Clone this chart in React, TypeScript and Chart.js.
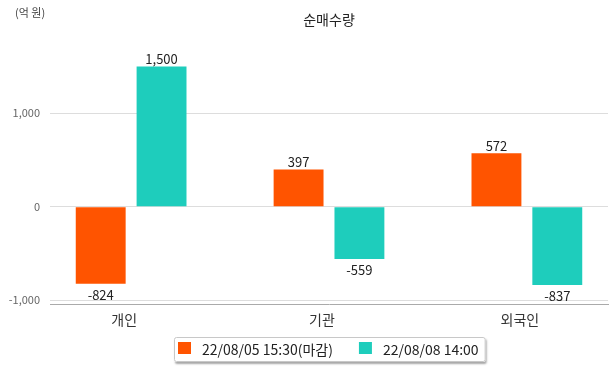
import React, { useEffect, useRef } from "react";
import { Chart, registerables } from "chart.js";

Chart.register(...registerables);

const categories = ["개인", "기관", "외국인"];
const seriesNames = ["22/08/05 15:30(마감)", "22/08/08 14:00"];
const closeValues = [-824, 397, 572];
const intradayValues = [1500, -559, -837];
const yTicks = [-1000, 0, 1000];
const colors = ["#FF5400", "#1ECDBC"];
const titleText = "순매수량";
const unitText = "(억 원)";

const FONT = "'Noto Sans CJK KR', 'Noto Sans', sans-serif";

const labelsPlugin = {
  id: "customText",
  afterDatasetsDraw(chart: any) {
    const ctx = chart.ctx;
    ctx.save();
    ctx.font = `13px ${FONT}`;
    ctx.fillStyle = "#222";
    ctx.textAlign = "center";
    chart.data.datasets.forEach((ds: any, i: number) => {
      const meta = chart.getDatasetMeta(i);
      meta.data.forEach((el: any, j: number) => {
        const v = ds.data[j].y;
        const txt = v.toLocaleString("en-US");
        if (v >= 0) {
          ctx.textBaseline = "bottom";
          ctx.fillText(txt, el.x, el.y - 1);
        } else {
          ctx.textBaseline = "top";
          ctx.fillText(txt, el.x, el.y + 5);
        }
      });
    });
    ctx.restore();
  },
  afterDraw(chart: any) {
    const ctx = chart.ctx;
    const area = chart.chartArea;
    const cx = (area.left + area.right) / 2;
    ctx.save();
    // title
    ctx.font = `14px ${FONT}`;
    ctx.fillStyle = "#222";
    ctx.textAlign = "center";
    ctx.textBaseline = "middle";
    ctx.fillText(titleText, cx, 20);
    // unit
    ctx.font = `11px ${FONT}`;
    ctx.fillStyle = "#444";
    ctx.textAlign = "left";
    ctx.fillText(unitText, 15, 13);
    // legend
    ctx.font = `14px ${FONT}`;
    const padL = 4, sq = 13, gap = 11, between = 26, padR = 7;
    const widths = chart.data.datasets.map((d: any) => ctx.measureText(d.label).width);
    let total = padL + padR;
    widths.forEach((w: number, i: number) => {
      total += sq + gap + w + (i < widths.length - 1 ? between : 0);
    });
    const bx = Math.round(cx + 1 - total / 2);
    const by = 337, bh = 25;
    ctx.save();
    ctx.shadowColor = "rgba(0,0,0,0.35)";
    ctx.shadowOffsetX = 1;
    ctx.shadowOffsetY = 2;
    ctx.shadowBlur = 2;
    ctx.fillStyle = "#fff";
    ctx.beginPath();
    ctx.roundRect(bx, by, total, bh, 2);
    ctx.fill();
    ctx.restore();
    ctx.strokeStyle = "#c8c8c8";
    ctx.lineWidth = 1;
    ctx.beginPath();
    ctx.roundRect(bx + 0.5, by + 0.5, total - 1, bh - 1, 2);
    ctx.stroke();
    let x = bx + padL;
    chart.data.datasets.forEach((d: any, i: number) => {
      ctx.fillStyle = d.backgroundColor;
      ctx.fillRect(x, by + 5, sq, 12);
      x += sq + gap;
      ctx.fillStyle = "#222";
      ctx.textAlign = "left";
      ctx.textBaseline = "middle";
      ctx.fillText(d.label, x, by + bh / 2);
      x += widths[i] + between;
    });
    ctx.restore();
  },
};

export default function App() {
  const ref = useRef<HTMLCanvasElement>(null);
  useEffect(() => {
    if (!ref.current) return;
    const mk = (vals: number[]) => vals.map((y, i) => ({ x: i, y }));
    const chart = new Chart(ref.current, {
      type: "bar",
      data: {
        datasets: [
          { label: seriesNames[0], data: mk(closeValues), backgroundColor: colors[0] },
          { label: seriesNames[1], data: mk(intradayValues), backgroundColor: colors[1] },
        ],
      },
      options: {
        animation: false,
        responsive: false,
        maintainAspectRatio: false,
        categoryPercentage: 0.615,
        barPercentage: 0.82,
        layout: { padding: { top: 43, right: 7, bottom: 36, left: 0 } },
        plugins: {
          legend: { display: false },
          title: { display: false },
          tooltip: { enabled: false },
        },
        scales: {
          x: {
            type: "linear",
            offset: false,
            min: -0.41,
            max: 2.41,
            afterBuildTicks: (s: any) => {
              s.ticks = categories.map((_, i) => ({ value: i }));
            },
            afterFit: (s: any) => {
              s.height = 28;
            },
            grid: { display: false, drawTicks: false, offset: false },
            border: { display: true, color: "#aaaaaa", width: 1 },
            ticks: {
              padding: 7,
              labelOffset: -7,
              autoSkip: false,
              maxRotation: 0,
              color: "#333",
              font: { family: FONT, size: 14 },
              callback: (v: any) => categories[v] ?? "",
            },
          },
          y: {
            min: -1040,
            max: 1750,
            afterBuildTicks: (s: any) => {
              s.ticks = yTicks.map((v) => ({ value: v }));
            },
            afterFit: (s: any) => {
              s.width = 50;
            },
            grid: { color: "#dddddd", lineWidth: 1, drawTicks: false },
            border: { display: false },
            ticks: {
              padding: 10,
              color: "#666",
              font: { family: FONT, size: 11 },
              callback: (v: any) => Number(v).toLocaleString("en-US"),
            },
          },
        },
      },
      plugins: [labelsPlugin],
    } as any);
    return () => chart.destroy();
  }, []);
  return (
    <div style={{ position: "fixed", left: 0, top: 0, width: 615, height: 368, background: "#fff" }}>
      <canvas ref={ref} width={615} height={368} style={{ width: 615, height: 368, display: "block" }} />
    </div>
  );
}
